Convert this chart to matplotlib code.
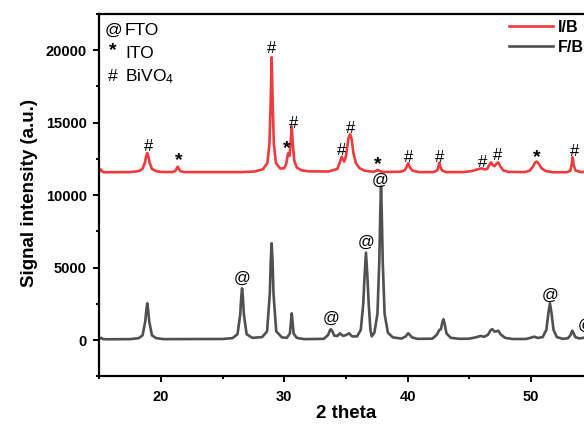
import matplotlib
matplotlib.use("Agg")
import matplotlib.pyplot as plt
from matplotlib.ticker import MultipleLocator

plt.rcParams['font.family'] = ['Liberation Sans', 'DejaVu Sans']
plt.rcParams['mathtext.fontset'] = 'custom'
plt.rcParams['mathtext.rm'] = 'Liberation Sans'
plt.rcParams['mathtext.it'] = 'Liberation Sans:italic'
plt.rcParams['mathtext.bf'] = 'Liberation Sans:bold'

# ---------------- data ----------------
ib_x = [15.0, 15.12, 15.28, 15.6, 17.5, 18.2, 18.5, 18.69, 18.8, 18.88, 18.96, 19.07, 19.26, 19.6, 20.0,
        20.9, 21.15, 21.28, 21.35, 21.42, 21.55, 21.9, 26.5, 27.6, 28.27, 28.62, 28.79, 28.89, 28.97,
        29.05, 29.15, 29.32, 29.67, 30.0, 30.15, 30.3, 30.42, 30.5, 30.6, 30.68, 30.8, 31.0, 31.4,
        32.0, 33.6, 34.3, 34.5, 34.65, 34.85, 35.0, 35.2, 35.33, 35.45, 35.6, 35.8, 36.1, 36.5,
        37.2, 37.45, 37.57, 37.7, 38.0, 39.4, 39.75, 39.9, 40.05, 40.18, 40.4, 40.9, 42.1, 42.4,
        42.5, 42.57, 42.65, 42.78, 43.1, 44.5, 45.2, 45.7, 46.0, 46.25, 46.45, 46.65, 46.76, 46.9,
        47.05, 47.2, 47.35, 47.5, 47.75, 48.2, 49.5, 49.9, 50.15, 50.35, 50.47, 50.6, 50.85, 51.2,
        51.8, 52.9, 53.2, 53.3, 53.38, 53.46, 53.6, 54.0, 56.0]
ib_y = [11620, 11760, 11580, 11570, 11580, 11650, 11800, 12230, 12700, 12900, 12700, 12230, 11800, 11650, 11590,
        11580, 11650, 11850, 11950, 11850, 11650, 11580, 11580, 11620, 11780, 12200, 13500, 16400, 19500,
        16400, 13500, 12200, 11820, 11850, 12150, 12880, 12700, 13500, 14700, 13600, 12400, 11900, 11700,
        11630, 11620, 11800, 12250, 12640, 12300, 12700, 13900, 14200, 13900, 12900, 12200, 11850, 11680,
        11600, 11660, 11730, 11660, 11590, 11600, 11700, 11900, 12190, 11900, 11680, 11580, 11580, 11700,
        11950, 12230, 11950, 11700, 11580, 11580, 11650, 11780, 11840, 11760, 11800, 12100, 12250, 12050,
        12000, 12150, 12250, 12000, 11700, 11590, 11580, 11680, 11950, 12250, 12300, 12200, 11850, 11650,
        11570, 11570, 11680, 12100, 12600, 12100, 11700, 11590, 11570]

fb_x = [15.0, 15.15, 15.3, 15.7, 17.5, 18.2, 18.5, 18.72, 18.81, 18.88, 18.95, 19.04, 19.26, 19.6, 20.2,
        25.0, 25.8, 26.2, 26.42, 26.5, 26.57, 26.64, 26.72, 26.94, 27.4, 28.2, 28.6, 28.82, 28.9,
        28.97, 29.04, 29.12, 29.34, 29.8, 30.2, 30.45, 30.54, 30.6, 30.66, 30.75, 31.0, 31.6, 33.2,
        33.55, 33.7, 33.78, 33.88, 34.05, 34.3, 34.51, 34.75, 34.95, 35.24, 35.5, 35.9, 36.2, 36.4,
        36.5, 36.62, 36.74, 36.84, 36.98, 37.08, 37.3, 37.55, 37.7, 37.78, 37.84, 37.9, 37.98, 38.13,
        38.4, 38.8, 39.5, 39.85, 39.97, 40.05, 40.15, 40.35, 40.8, 42.0, 42.35, 42.57, 42.7, 42.82,
        42.9, 42.98, 43.15, 43.5, 44.2, 45.0, 45.6, 45.9, 46.2, 46.5, 46.75, 46.87, 47.05, 47.2,
        47.35, 47.55, 47.9, 48.5, 49.6, 50.0, 50.27, 50.55, 50.95, 51.25, 51.42, 51.54, 51.66, 51.83,
        52.1, 52.6, 53.0, 53.22, 53.3, 53.36, 53.44, 53.6, 53.9, 54.3, 54.5, 54.6, 54.7, 55.0]
fb_y = [80, 150, 60, 50, 60, 130, 320, 1290, 2100, 2530, 2100, 1290, 320, 130, 60,
        70, 130, 400, 1750, 2900, 3560, 2900, 1750, 400, 150, 200, 600, 3200, 5500,
        6670, 5500, 3200, 600, 180, 150, 450, 1300, 1840, 1300, 450, 150, 60, 80,
        350, 680, 740, 620, 300, 280, 460, 290, 320, 460, 250, 250, 700, 2500,
        4300, 6020, 4300, 2500, 700, 250, 500, 1800, 5400, 8800, 10600, 8800, 5400, 1800,
        500, 180, 100, 250, 400, 460, 380, 180, 80, 90, 350, 690, 750, 1250,
        1430, 1200, 450, 150, 80, 90, 200, 280, 220, 350, 700, 740, 580, 600,
        640, 380, 150, 70, 70, 160, 230, 140, 200, 700, 1900, 2530, 1900, 700,
        200, 80, 120, 350, 550, 640, 500, 200, 110, 150, 300, 450, 300, 100]

# peak markers: symbol, x, baseline y
mark_sym = ['#', '*', '#', '*', '#', '#', '#', '*', '#', '#', '#', '#', '*', '#',
            '@', '@', '@', '@', '@', '@']
mark_x = [19.0, 21.43, 28.97, 30.2, 30.73, 34.6, 35.38, 37.54, 40.05, 42.62, 46.1, 47.3, 50.5, 53.5,
          26.62, 33.78, 36.62, 37.8, 51.6, 54.45]
mark_y = [13056, 12030, 19774, 12900, 14601, 12759, 14297, 11800, 12297, 12297, 11952, 12415, 12300, 12690,
          3966, 1207, 6400, 10725, 2773, 724]

key_sym = ['@', '*', '#']
key_text = ['FTO', 'ITO', r'BiVO$_\mathrm{4}$']

series_labels = ['I/B', 'F/B']
x_label = '2 theta'
y_label = 'Signal intensity (a.u.)'

# ---------------- figure ----------------
W, H = 584, 433
fig = plt.figure(figsize=(W / 100, H / 100), dpi=100)

x0, x1 = 15, 60
y0, y1 = -2500, 22500
px_per_x = 12.33
px_per_y = 72.5 / 5000
left_px = 99.4
bottom_px = 376.25
ax = fig.add_axes([left_px / W, 1 - bottom_px / H,
                   (x1 - x0) * px_per_x / W, (y1 - y0) * px_per_y / H])

red = '#EF3B3F'
gray = '#505050'
l1, = ax.plot(ib_x, ib_y, color=red, lw=1.9, solid_joinstyle='round')
l2, = ax.plot(fb_x, fb_y, color=gray, lw=1.9, solid_joinstyle='round')

ax.set_xlim(x0, x1)
ax.set_ylim(y0, y1)
ax.xaxis.set_major_locator(MultipleLocator(10))
ax.xaxis.set_minor_locator(MultipleLocator(5))
ax.yaxis.set_major_locator(MultipleLocator(5000))
ax.yaxis.set_minor_locator(MultipleLocator(2500))
ax.set_yticks([0, 5000, 10000, 15000, 20000])

for s in ax.spines.values():
    s.set_linewidth(1.6)
ax.tick_params(which='major', direction='out', length=4, width=1.4, labelsize=10.5)
ax.tick_params(axis='y', which='major', pad=5)
ax.tick_params(axis='x', which='major', pad=6)
ax.tick_params(which='minor', direction='out', length=2.5, width=1.4)
for lab in ax.get_xticklabels() + ax.get_yticklabels():
    lab.set_fontweight('bold')

fig.text(30 / W, 1 - 193 / H, y_label, rotation=90, ha='center', va='center',
         fontsize=13.5, fontweight='bold')
fig.text(346 / W, 1 - 414 / H, x_label, ha='center', va='center',
         fontsize=13.5, fontweight='bold')

for s, x, y in zip(mark_sym, mark_x, mark_y):
    if s == '*':
        ax.text(x, y, s, ha='center', va='baseline', fontsize=14, fontweight='bold', color='black')
    else:
        ax.text(x, y, s, ha='center', va='baseline', fontsize=12, color='black')

key_base_px = [35, 55.5, 81]
key_sym_px = [113.3, 112.7, 112.7]
for s, b, sx in zip(key_sym, key_base_px, key_sym_px):
    if s == '*':
        fig.text(sx / W, 1 - b / H, s, ha='center', va='baseline', fontsize=14, fontweight='bold')
    else:
        fig.text(sx / W, 1 - b / H, s, ha='center', va='baseline', fontsize=12.5)
key_text_base_px = [35, 58.3, 81]
for t, b in zip(key_text, key_text_base_px):
    fig.text(125 / W, 1 - b / H, t, ha='left', va='baseline', fontsize=12.5)

fig.legend([l1, l2], series_labels, loc='upper left',
           bbox_to_anchor=(509 / W, 1 - 19.5 / H), bbox_transform=fig.transFigure,
           frameon=False, borderpad=0, borderaxespad=0, handlelength=2.74,
           handletextpad=0.3, labelspacing=0.33,
           prop={'weight': 'bold', 'size': 11.5})

fig.savefig('out.png', dpi=100)
